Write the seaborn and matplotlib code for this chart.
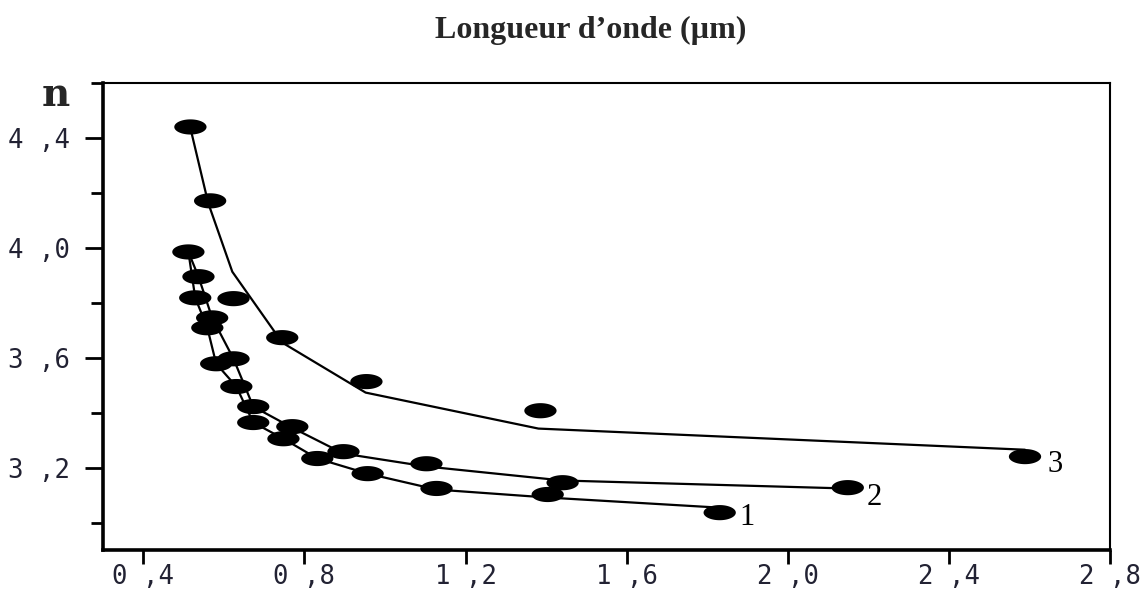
import numpy as np
import pandas as pd
import matplotlib
matplotlib.use("Agg")
import matplotlib.pyplot as plt
from matplotlib.path import Path
from matplotlib.ticker import FixedLocator
import seaborn as sns

# ---- data (wavelength in µm, refractive index n) ----
m1_x = [0.512, 0.529, 0.559, 0.581, 0.631, 0.673, 0.748, 0.832, 0.957, 1.128, 1.404, 1.831]
m1_y = [3.985, 3.818, 3.709, 3.578, 3.495, 3.364, 3.305, 3.233, 3.178, 3.124, 3.102, 3.036]
m2_x = [0.537, 0.571, 0.624, 0.673, 0.770, 0.897, 1.103, 1.441, 2.149]
m2_y = [3.895, 3.745, 3.596, 3.422, 3.349, 3.258, 3.214, 3.145, 3.127]
m3_x = [0.517, 0.566, 0.624, 0.745, 0.954, 1.386, 2.589]
m3_y = [4.440, 4.171, 3.815, 3.673, 3.513, 3.407, 3.240]

l1_x = [0.512, 0.529, 0.559, 0.581, 0.631, 0.673, 0.748, 0.832, 0.957, 1.128, 1.404, 1.821]
l1_y = [3.985, 3.818, 3.709, 3.578, 3.495, 3.364, 3.305, 3.233, 3.178, 3.120, 3.091, 3.055]
l2_x = [0.512, 0.537, 0.571, 0.624, 0.673, 0.770, 0.897, 1.103, 1.441, 2.144]
l2_y = [3.985, 3.895, 3.745, 3.596, 3.422, 3.345, 3.251, 3.204, 3.153, 3.124]
l3_x = [0.517, 0.561, 0.621, 0.745, 0.952, 1.381, 2.589]
l3_y = [4.436, 4.164, 3.913, 3.655, 3.473, 3.342, 3.265]

curve_labels = ["1", "2", "3"]
label_x = [1.898, 2.214, 2.663]
label_y = [3.018, 3.091, 3.211]

x_ticks = [0.4, 0.8, 1.2, 1.6, 2.0, 2.4, 2.8]
x_tick_labels = ["0 ,4", "0 ,8", "1 ,2", "1 ,6", "2 ,0", "2 ,4", "2 ,8"]
y_ticks = [3.2, 3.6, 4.0, 4.4]
y_tick_labels = ["3 ,2", "3 ,6", "4 ,0", "4 ,4"]
y_minor = [3.0, 3.4, 3.8, 4.2, 4.6]

title = "Longueur d\u2019onde (\u00b5m)"
ylabel = "n"

# ---- figure ----
sns.set_theme(style="ticks")
fig = plt.figure(figsize=(11.47, 5.94), dpi=100)
ax = fig.add_axes([103 / 1147, 1 - 550 / 594, (1110 - 103) / 1147, (550 - 83) / 594])

t = np.linspace(0, 2 * np.pi, 80)
ellipse = Path(np.column_stack([np.cos(t), 0.47 * np.sin(t)]))

for lx, ly in [(l1_x, l1_y), (l2_x, l2_y), (l3_x, l3_y)]:
    df = pd.DataFrame({"x": lx, "y": ly})
    sns.lineplot(data=df, x="x", y="y", sort=False, estimator=None,
                 color="black", linewidth=1.6, ax=ax)

for mx, my in [(m1_x, m1_y), (m2_x, m2_y), (m3_x, m3_y)]:
    df = pd.DataFrame({"x": mx, "y": my})
    sns.scatterplot(data=df, x="x", y="y", marker=ellipse, s=540,
                    color="black", edgecolor="none", linewidth=0, ax=ax, zorder=3)

for lab, tx, ty in zip(curve_labels, label_x, label_y):
    ax.text(tx, ty, lab, ha="center", va="center", fontsize=22,
            family="Liberation Serif", color="black")

ax.set_xlim(0.30, 2.8)
ax.set_ylim(2.9, 4.6)
ax.set_xticks(x_ticks)
ax.set_xticklabels(x_tick_labels)
ax.set_yticks(y_ticks)
ax.set_yticklabels(y_tick_labels)
ax.yaxis.set_minor_locator(FixedLocator(y_minor))
ax.set_xlabel("")
ax.set_ylabel("")

for lbl in ax.get_xticklabels() + ax.get_yticklabels():
    lbl.set_fontfamily("DejaVu Sans Mono")
    lbl.set_fontsize(18.5)
    lbl.set_color("#222233")

ax.tick_params(axis="y", which="major", direction="out", length=13, width=2,
               pad=11, color="black")
ax.tick_params(axis="y", which="minor", direction="out", length=9, width=2,
               color="black")
ax.tick_params(axis="x", which="major", direction="out", length=10, width=2,
               pad=0, color="black")

for side in ["left", "bottom"]:
    ax.spines[side].set_linewidth(2.6)
    ax.spines[side].set_color("black")
for side in ["top", "right"]:
    ax.spines[side].set_visible(True)
    ax.spines[side].set_linewidth(1.5)
    ax.spines[side].set_color("black")

fig.text(591 / 1147, 1 - 30 / 594, title, ha="center", va="center",
         fontsize=23, fontweight="bold", family="Liberation Serif")
fig.text(56 / 1147, 1 - 95 / 594, ylabel, ha="center", va="center",
         fontsize=28, fontweight="bold", family="DejaVu Serif")

fig.savefig("out.png", dpi=100, facecolor="white")
